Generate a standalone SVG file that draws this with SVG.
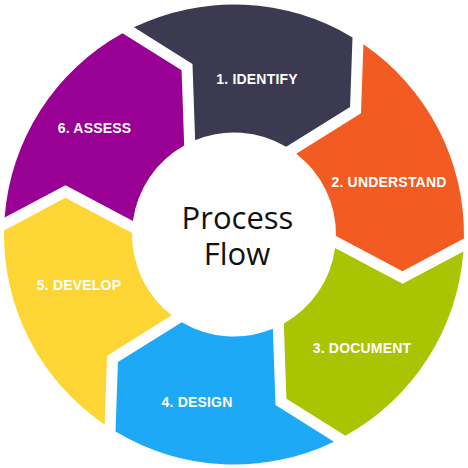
<svg xmlns="http://www.w3.org/2000/svg" xmlns:xlink="http://www.w3.org/1999/xlink" width="468" height="468" viewBox="0 0 468 468">
  <style>
    .lbl { font-family: "Liberation Sans", Arial, sans-serif; font-weight: bold; font-size: 14px; fill: #ffffff; text-anchor: middle; letter-spacing: 0.2px; }
    .title { font-family: "Open Sans", "Noto Sans", sans-serif; font-size: 31px; fill: #111111; text-anchor: middle; }
  </style>
  <defs>
    <path id="seg" d="M4.62,217.52 A230,230 0 0 1 122.55,33.33 L181.58,70.2 L184.2,145.49 A102,102 0 0 0 132.91,221 L65.5,185.15 Z"/>
  </defs>
  <rect width="468" height="468" fill="#ffffff"/>
  <g id="step1">
    <use href="#seg" xlink:href="#seg" transform="rotate(60 234 234.5)" fill="#3b3a50"/>
    <text class="lbl" x="257" y="83.5">1. IDENTIFY</text>
  </g>
  <g id="step2">
    <use href="#seg" xlink:href="#seg" transform="rotate(120 234 234.5)" fill="#f25b22"/>
    <text class="lbl" x="389" y="187">2. UNDERSTAND</text>
  </g>
  <g id="step3">
    <use href="#seg" xlink:href="#seg" transform="rotate(180 234 234.5)" fill="#a9c402"/>
    <text class="lbl" x="362" y="353">3. DOCUMENT</text>
  </g>
  <g id="step4">
    <use href="#seg" xlink:href="#seg" transform="rotate(240 234 234.5)" fill="#1ea9f6"/>
    <text class="lbl" x="197" y="407">4. DESIGN</text>
  </g>
  <g id="step5">
    <use href="#seg" xlink:href="#seg" transform="rotate(300 234 234.5)" fill="#fdd534"/>
    <text class="lbl" x="79" y="290">5. DEVELOP</text>
  </g>
  <g id="step6">
    <use href="#seg" xlink:href="#seg" fill="#990094"/>
    <text class="lbl" x="94.5" y="133">6. ASSESS</text>
  </g>
  <g id="center">
    <text class="title" x="237.5" y="228.5">Process</text>
    <text class="title" x="237" y="265">Flow</text>
  </g>
  <g id="connectors"/>
</svg>
